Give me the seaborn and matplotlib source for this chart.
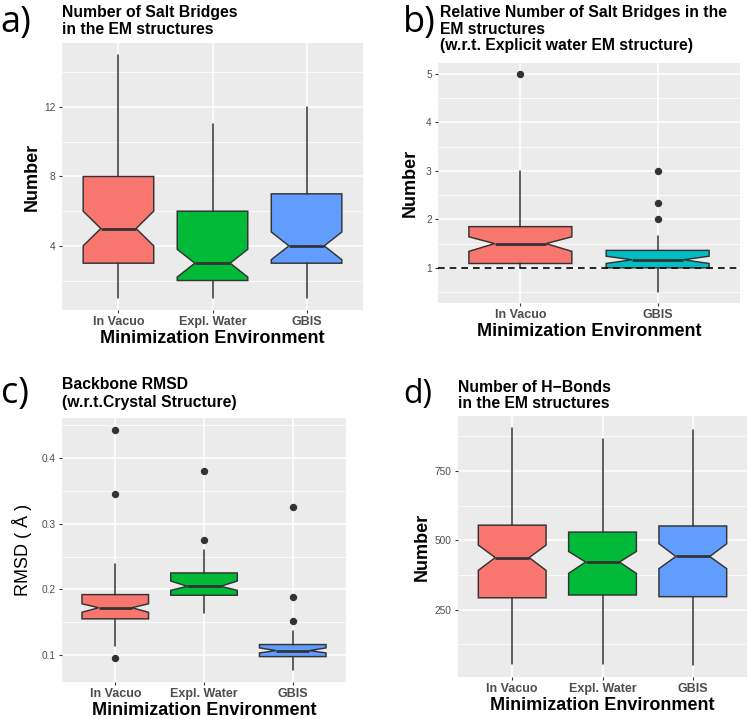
import matplotlib
matplotlib.use("Agg")
import matplotlib.pyplot as plt
import seaborn as sns

# ---------------- data ----------------
env3 = ["In Vacuo", "Expl. Water", "GBIS"]
env2 = ["In Vacuo", "GBIS"]
colors3 = ["#F8766D", "#00BA38", "#619CFF"]
colors2 = ["#F8766D", "#00BFC4"]

# a) number of salt bridges
sb_whislo = [1, 1, 1]
sb_q1 = [3, 2, 3]
sb_med = [5, 3, 4]
sb_q3 = [8, 6, 7]
sb_whishi = [15, 11, 12]
sb_cilo = [4.0, 2.2, 3.2]
sb_cihi = [6.0, 3.8, 4.8]
sb_fliers = [[], [], []]

# b) relative number of salt bridges
rel_whislo = [1.0, 0.5]
rel_q1 = [1.09, 1.0]
rel_med = [1.5, 1.167]
rel_q3 = [1.85, 1.36]
rel_whishi = [3.0, 1.667]
rel_cilo = [1.34, 1.09]
rel_cihi = [1.64, 1.24]
rel_fliers = [[5.0], [3.0, 2.333, 2.0]]

# c) backbone RMSD
rmsd_whislo = [0.114, 0.164, 0.077]
rmsd_q1 = [0.155, 0.191, 0.0974]
rmsd_med = [0.172, 0.2046, 0.1066]
rmsd_q3 = [0.192, 0.225, 0.1158]
rmsd_whishi = [0.239, 0.260, 0.136]
rmsd_cilo = [0.165, 0.1985, 0.103]
rmsd_cihi = [0.178, 0.2127, 0.1107]
rmsd_fliers = [[0.443, 0.3455, 0.0948], [0.381, 0.276], [0.325, 0.189, 0.151]]

# d) number of H-bonds
hb_whislo = [53, 53, 50]
hb_q1 = [293, 303, 297]
hb_med = [438, 422, 442]
hb_q3 = [555, 530, 552]
hb_whishi = [906, 867, 899]
hb_cilo = [392, 381, 398]
hb_cihi = [483, 460, 488]
hb_fliers = [[], [], []]

# ---------------- style ----------------
sns.set_theme(style="darkgrid", rc={
    "axes.facecolor": "#EBEBEB",
    "grid.color": "white",
    "axes.edgecolor": "#EBEBEB",
})
plt.rcParams["font.family"] = ["Liberation Sans", "DejaVu Sans"]

W, H = 750, 719
fig = plt.figure(figsize=(W / 100, H / 100), dpi=100)
fig.patch.set_facecolor("white")


def add_ax(x0, y0, x1, y1):
    return fig.add_axes([x0 / W, 1 - y1 / H, (x1 - x0) / W, (y1 - y0) / H])


def draw_panel(ax, cats, cols, whislo, q1, med, q3, whishi, cilo, cihi, fliers,
               yticks, yminor, ylabels):
    stats = []
    for i, c in enumerate(cats):
        stats.append(dict(label=c, whislo=whislo[i], q1=q1[i], med=med[i],
                          q3=q3[i], whishi=whishi[i], cilo=cilo[i],
                          cihi=cihi[i], fliers=fliers[i]))
    bp = ax.bxp(stats, positions=list(range(len(cats))), widths=0.75,
                shownotches=True, showcaps=False, patch_artist=True,
                boxprops=dict(edgecolor="#333333", linewidth=1.05),
                medianprops=dict(color="#333333", linewidth=2.0,
                                 solid_capstyle="butt"),
                whiskerprops=dict(color="#333333", linewidth=1.1),
                flierprops=dict(marker="o", markerfacecolor="#333333",
                                markeredgecolor="#333333", markersize=4.3))
    for patch, col in zip(bp["boxes"], cols):
        patch.set_facecolor(col)
    allv = list(whislo) + list(whishi) + [v for f in fliers for v in f]
    lo, hi = min(allv), max(allv)
    pad = 0.05 * (hi - lo)
    ax.set_ylim(lo - pad, hi + pad)
    ax.set_xlim(-0.6, len(cats) - 0.4)
    ax.set_xticks(list(range(len(cats))))
    ax.set_xticklabels(cats, fontsize=9, fontweight="bold", color="#4D4D4D")
    ax.set_yticks(yticks)
    ax.set_yticklabels(ylabels, fontsize=7.3, color="#4D4D4D")
    ax.set_yticks(yminor, minor=True)
    ax.set_axisbelow(True)
    ax.grid(False)
    ax.xaxis.grid(True, which="major", color="white", linewidth=1.1)
    ax.yaxis.grid(True, which="major", color="white", linewidth=1.1)
    ax.yaxis.grid(True, which="minor", color="white", linewidth=0.55)
    ax.tick_params(which="major", length=2.5, width=0.8, color="#333333",
                   pad=2, bottom=True, left=True)
    ax.tick_params(which="minor", length=0)
    for s in ax.spines.values():
        s.set_visible(False)
    return bp


def label_text(ax, xl, yl, yl_bold=True, xpad=1, ypad=3):
    ax.set_xlabel(xl, fontsize=13, fontweight="bold", color="black",
                  labelpad=xpad)
    ax.set_ylabel(yl, fontsize=13, fontweight="bold" if yl_bold else "normal",
                  color="black", labelpad=ypad)


def title_lines(x, baselines, lines):
    for b, t in zip(baselines, lines):
        fig.text(x / W, 1 - b / H, t, fontsize=11.3, fontweight="bold",
                 ha="left", va="baseline", color="black")


def panel_tag(x, base, t, size):
    fig.text(x / W, 1 - base / H, t, fontsize=size, ha="left",
             va="baseline", family=["Open Sans", "DejaVu Sans"],
             color="black")


# a)
ax_a = add_ax(62, 43, 363, 310)
draw_panel(ax_a, env3, colors3, sb_whislo, sb_q1, sb_med, sb_q3, sb_whishi,
           sb_cilo, sb_cihi, sb_fliers, [4, 8, 12], [2, 6, 10, 14],
           ["4", "8", "12"])
label_text(ax_a, "Minimization Environment", "Number")
title_lines(62, [17.3, 34.3], ["Number of Salt Bridges", "in the EM structures"])
panel_tag(0, 31.5, "a)", 26)

# b)
ax_b = add_ax(438, 63, 740, 303)
draw_panel(ax_b, env2, colors2, rel_whislo, rel_q1, rel_med, rel_q3,
           rel_whishi, rel_cilo, rel_cihi, rel_fliers, [1, 2, 3, 4, 5],
           [0.5, 1.5, 2.5, 3.5, 4.5], ["1", "2", "3", "4", "5"])
ax_b.axhline(1, color="black", linestyle=(0, (4, 3)), linewidth=1.2, zorder=5)
label_text(ax_b, "Minimization Environment", "Number", ypad=5)
title_lines(440, [17.3, 34.3, 50.3], ["Relative Number of Salt Bridges in the",
                                      "EM structures",
                                      "(w.r.t. Explicit water EM structure)"])
panel_tag(403, 32.5, "b)", 26)

# c)
ax_c = add_ax(62, 418, 346, 682)
draw_panel(ax_c, env3, colors3, rmsd_whislo, rmsd_q1, rmsd_med, rmsd_q3,
           rmsd_whishi, rmsd_cilo, rmsd_cihi, rmsd_fliers,
           [0.1, 0.2, 0.3, 0.4], [0.15, 0.25, 0.35, 0.45],
           ["0.1", "0.2", "0.3", "0.4"])
label_text(ax_c, "Minimization Environment", "RMSD ( Å )", yl_bold=False,
           ypad=7)
title_lines(62, [389.3, 406.7], ["Backbone RMSD", "(w.r.t.Crystal Structure)"])
panel_tag(1, 403, "c)", 26)

# d)
ax_d = add_ax(458, 416, 747, 677)
draw_panel(ax_d, env3, colors3, hb_whislo, hb_q1, hb_med, hb_q3, hb_whishi,
           hb_cilo, hb_cihi, hb_fliers, [250, 500, 750],
           [125, 375, 625, 875], ["250", "500", "750"])
label_text(ax_d, "Minimization Environment", "Number")
title_lines(458, [391.7, 408.3], ["Number of H\u2212Bonds", "in the EM structures"])
panel_tag(403, 403, "d)", 23)

fig.savefig("out.png", dpi=100, facecolor="white")
